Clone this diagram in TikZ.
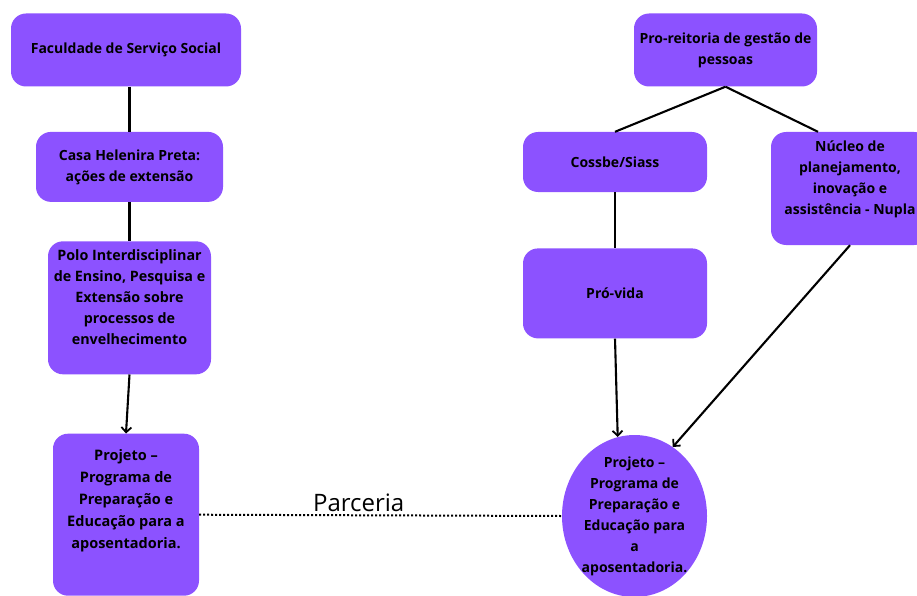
\documentclass[tikz,border=0pt]{standalone}
\usepackage{fontspec}
\setmainfont{Open Sans}
\usepackage{xcolor}
\usetikzlibrary{shapes,arrows.meta,positioning,calc}
\definecolor{canvapurple}{RGB}{140,82,255}

\begin{document}
\begin{tikzpicture}[
    x=1pt, y=-1pt,
    every node/.style={font=\fontsize{14}{21}\selectfont\bfseries},
    unitbox/.style={rectangle, fill=canvapurple, draw=none, rounded corners=15pt, align=center, inner sep=2pt},
    projoval/.style={ellipse, fill=canvapurple, draw=none, align=center, inner sep=-4pt},
    link/.style={line width=2.1pt, black},
    flow/.style={line width=2.1pt, black, -{Straight Barb[length=5pt,width=10pt,line width=1.8pt]}}
]
\useasboundingbox (0,0) rectangle (917,596);

% left column
\node[unitbox, minimum width=230pt, minimum height=73pt] (fac) at (126,50) {Faculdade de Serviço Social};
\node[unitbox, below=45pt of fac, xshift=3.5pt, minimum width=187pt, minimum height=70pt] (casa) {Casa Helenira Preta:\\ações de extensão};
\node[unitbox, below=39pt of casa, minimum width=163pt, minimum height=133pt, font=\fontsize{14.3}{21}\selectfont\bfseries] (polo) {Polo Interdisciplinar\\de Ensino, Pesquisa e\\Extensão sobre\\processos de\\envelhecimento\\[0pt]\mbox{}};
\node[unitbox, below=59pt of polo, xshift=-3.5pt, minimum width=146pt, minimum height=162pt, font=\fontsize{14.5}{22}\selectfont\bfseries] (projL) {Projeto --\\Programa de\\Preparação e\\Educação para a\\aposentadoria.\\[10pt]\mbox{}};

% right column
\node[unitbox, minimum width=183pt, minimum height=73pt] (pro) at (725.5,50) {Pro-reitoria de gestão de\\pessoas};
\node[unitbox, minimum width=184pt, minimum height=60pt] (coss) at (615,162) {Cossbe/Siass};
\node[unitbox, minimum width=158pt, minimum height=113pt] (nupla) at (850,188.5) {Núcleo de\\planejamento,\\inovação e\\assistência - Nupla\\[0pt]\mbox{}};
\node[unitbox, below=56pt of coss, minimum width=184pt, minimum height=90pt] (provida) {Pró-vida};
\node[projoval, minimum width=145pt, minimum height=162pt] (projR) at (634.5,516) {Projeto --\\Programa de\\Preparação e\\Educação para\\a\\aposentadoria.};

% connectors
\draw[link] (casa.north |- fac.south) -- (casa.north);
\draw[link] (casa) -- (polo);
\draw[flow] (polo.south) -- (projL.north);
\draw[link] (pro.south) -- (coss.north);
\draw[link] (pro.south) -- ($(nupla.north)-(32,0)$);
\draw[link] (coss) -- (provida);
\draw[flow] (provida.south) -- (projR.102);
\draw[flow] (nupla.south) -- (projR.61);

\draw[line width=2pt, dotted] (projL.east) -- (projR.west)
    node[pos=0.44, above, inner sep=3pt, font=\fontsize{24}{28}\selectfont] (parc) {Parceria};

\end{tikzpicture}
\end{document}
